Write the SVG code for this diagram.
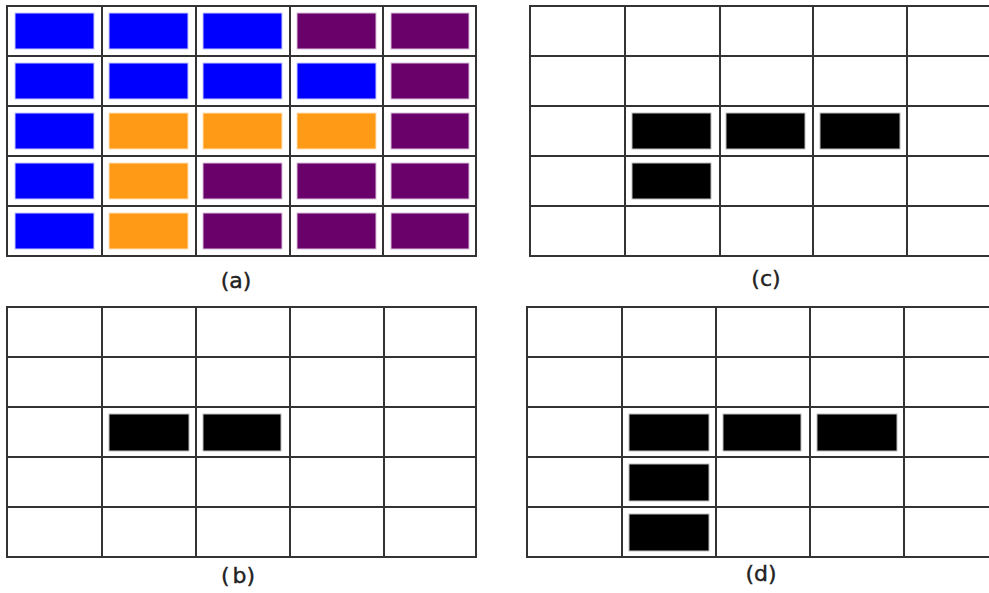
<svg xmlns="http://www.w3.org/2000/svg" width="989" height="593" viewBox="0 0 989 593">
<style>
.g{fill:none;stroke:#333;stroke-width:2}
.b{fill:#0000FF;stroke:#c8c8ff;stroke-width:1}
.p{fill:#6A006A;stroke:#d8c0d8;stroke-width:1}
.o{fill:#FF9A17;stroke:#ffe0b8;stroke-width:1}
.k{fill:#000;stroke:#bbb;stroke-width:1}
.t{font-family:"DejaVu Sans",Verdana,sans-serif;font-size:22px;fill:#222;stroke:#222;stroke-width:0.4;text-anchor:middle}
</style>
<rect width="989" height="593" fill="#fff"/>
<g id="panel-a">
<path class="g" d="M7 6H476V256H7Z M102 6V256 M196 6V256 M290 6V256 M383 6V256 M7 56H476 M7 106H476 M7 156H476 M7 206H476"/>
<rect class="b" x="15" y="13" width="79" height="36"/><rect class="b" x="109" y="13" width="79" height="36"/><rect class="b" x="203" y="13" width="79" height="36"/><rect class="p" x="297" y="13" width="79" height="36"/><rect class="p" x="391" y="13" width="78" height="36"/>
<rect class="b" x="15" y="63" width="79" height="36"/><rect class="b" x="109" y="63" width="79" height="36"/><rect class="b" x="203" y="63" width="79" height="36"/><rect class="b" x="297" y="63" width="79" height="36"/><rect class="p" x="391" y="63" width="78" height="36"/>
<rect class="b" x="15" y="113" width="79" height="36"/><rect class="o" x="109" y="113" width="79" height="36"/><rect class="o" x="203" y="113" width="79" height="36"/><rect class="o" x="297" y="113" width="79" height="36"/><rect class="p" x="391" y="113" width="78" height="36"/>
<rect class="b" x="15" y="163" width="79" height="36"/><rect class="o" x="109" y="163" width="79" height="36"/><rect class="p" x="203" y="163" width="79" height="36"/><rect class="p" x="297" y="163" width="79" height="36"/><rect class="p" x="391" y="163" width="78" height="36"/>
<rect class="b" x="15" y="213" width="79" height="36"/><rect class="o" x="109" y="213" width="79" height="36"/><rect class="p" x="203" y="213" width="79" height="36"/><rect class="p" x="297" y="213" width="79" height="36"/><rect class="p" x="391" y="213" width="78" height="36"/>
<text class="t" x="236" y="288">(a)</text>
</g>
<g id="panel-c">
<path class="g" d="M1001 6H530V256H1001 M625 6V256 M720 6V256 M813 6V256 M907 6V256 M530 56H1001 M530 106H1001 M530 156H1001 M530 206H1001"/>
<rect class="k" x="632" y="113" width="79" height="36"/><rect class="k" x="726" y="113" width="79" height="36"/><rect class="k" x="820" y="113" width="80" height="36"/>
<rect class="k" x="632" y="163" width="79" height="36"/>
<text class="t" x="766" y="286">(c)</text>
</g>
<g id="panel-b">
<path class="g" d="M7 307H476V557H7Z M102 307V557 M196 307V557 M290 307V557 M384 307V557 M7 357H476 M7 407H476 M7 457H476 M7 507H476"/>
<rect class="k" x="109" y="414" width="80" height="37"/><rect class="k" x="203" y="414" width="78" height="37"/>
<text class="t" x="238" y="583" word-spacing="-4">( b)</text>
</g>
<g id="panel-d">
<path class="g" d="M998 307H527V557H998 M622 307V557 M716 307V557 M810 307V557 M904 307V557 M527 357H998 M527 407H998 M527 457H998 M527 507H998"/>
<rect class="k" x="629" y="414" width="80" height="37"/><rect class="k" x="723" y="414" width="78" height="37"/><rect class="k" x="817" y="414" width="80" height="37"/>
<rect class="k" x="629" y="464" width="80" height="37"/>
<rect class="k" x="629" y="514" width="80" height="37"/>
<text class="t" x="761" y="581">(d)</text>
</g>
</svg>
